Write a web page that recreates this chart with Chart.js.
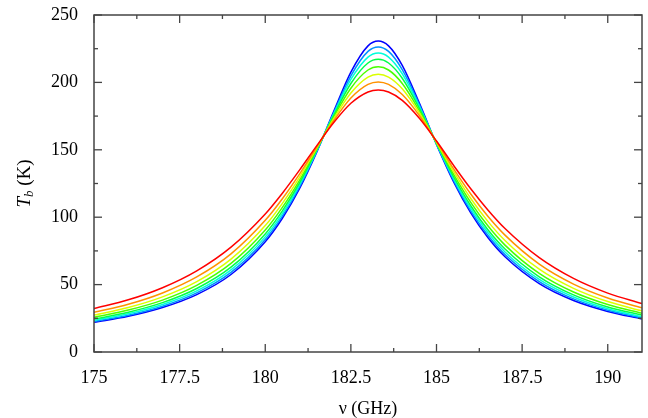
<!DOCTYPE html>
<html>
<head>
<meta charset="utf-8">
<script src="https://cdn.jsdelivr.net/npm/chart.js@4.4.1/dist/chart.umd.min.js"></script>
<style>
  html, body { margin: 0; padding: 0; background: #fff; }
  #wrap { width: 648px; height: 418px; position: relative; }
</style>
</head>
<body>
<div id="wrap"><canvas id="c" width="648" height="418"></canvas></div>
<script>
// Frequency (GHz)
const freqs = [175, 176, 177, 178, 179, 180, 180.5, 181, 181.5, 182, 182.5, 183, 183.3, 183.6, 184, 184.5, 185, 185.5, 186, 186.5, 187, 188, 189, 190, 191];

// Brightness temperature Tb (K), one series per curve (red -> blue)
const tbRed    = [32.2, 38.7, 47.7, 60.2, 77.8, 102.4, 117.8, 134.9, 152.9, 170.2, 184.5, 192.9, 194.4, 192.9, 186.7, 173.4, 156.5, 138.4, 121.1, 105.4, 91.6, 70.0, 54.6, 43.7, 35.9];
const tbOrange = [29.4, 35.4, 43.8, 55.7, 72.8, 97.7, 113.7, 132.0, 151.9, 171.7, 188.4, 198.5, 200.3, 198.5, 191.0, 175.4, 156.0, 135.9, 117.2, 100.7, 86.7, 65.2, 50.4, 40.1, 32.8];
const tbYellow = [27.4, 33.0, 40.9, 52.2, 68.9, 93.8, 110.3, 129.6, 151.1, 173.1, 192.1, 203.9, 206.0, 203.9, 195.2, 177.3, 155.6, 133.8, 113.9, 96.9, 82.7, 61.4, 47.2, 37.4, 30.5];
const tbLime   = [25.7, 31.1, 38.5, 49.4, 65.7, 90.5, 107.3, 127.4, 150.4, 174.4, 195.7, 209.2, 211.6, 209.2, 199.2, 179.0, 155.2, 131.8, 111.0, 93.6, 79.3, 58.3, 44.5, 35.2, 28.7];
const tbGreen  = [24.4, 29.5, 36.6, 47.1, 62.9, 87.6, 104.7, 125.4, 149.7, 175.6, 199.2, 214.4, 217.1, 214.4, 203.1, 180.7, 154.8, 130.0, 108.5, 90.7, 76.4, 55.8, 42.4, 33.4, 27.3];
const tbCyan   = [23.5, 28.3, 35.2, 45.3, 60.9, 85.4, 102.6, 123.9, 149.1, 176.6, 202.2, 218.8, 221.8, 218.8, 206.4, 182.1, 154.5, 128.6, 106.5, 88.6, 74.2, 53.8, 40.8, 32.1, 26.2];
const tbAzure  = [22.7, 27.3, 34.0, 43.9, 59.1, 83.5, 100.8, 122.4, 148.6, 177.5, 204.9, 223.0, 226.3, 223.0, 209.5, 183.4, 154.2, 127.3, 104.7, 86.6, 72.3, 52.2, 39.4, 31.0, 25.3];
const tbBlue   = [22.0, 26.5, 33.0, 42.6, 57.5, 81.8, 99.2, 121.2, 148.1, 178.5, 207.6, 227.1, 230.7, 227.1, 212.6, 184.6, 154.0, 126.2, 103.2, 84.9, 70.6, 50.7, 38.2, 30.1, 24.5];

// Tick labels / positions
const xTicks = [175, 177.5, 180, 182.5, 185, 187.5, 190];
const xMinor = [176.25, 178.75, 181.25, 183.75, 186.25, 188.75];
const yTicks = [0, 50, 100, 150, 200, 250];
const yMinor = [25, 75, 125, 175, 225];

const seriesList = [tbRed, tbOrange, tbYellow, tbLime, tbGreen, tbCyan, tbAzure, tbBlue];
const colors = ['#ff0000', '#ff9200', '#dbff00', '#49ff00', '#00ff49', '#00ffdb', '#0092ff', '#0000ff'];

const FONT = '"Liberation Serif", "Times New Roman", serif';

const datasets = seriesList.map((s, i) => ({
  data: freqs.map((f, j) => ({ x: f, y: s[j] })),
  borderColor: colors[i],
  borderWidth: 1.5,
  pointRadius: 0,
  fill: false,
  cubicInterpolationMode: 'monotone'
}));

const frameTicks = {
  id: 'frameTicks',
  afterDatasetsDraw(chart) {
    const { ctx, chartArea: a, scales: { x, y } } = chart;
    ctx.save();
    ctx.strokeStyle = '#444';
    ctx.lineWidth = 1.3;
    const seg = (x1, y1, x2, y2) => { ctx.beginPath(); ctx.moveTo(x1, y1); ctx.lineTo(x2, y2); ctx.stroke(); };
    const MAJ = 8, MIN = 4;
    xTicks.forEach(v => { const p = x.getPixelForValue(v); seg(p, a.bottom, p, a.bottom - MAJ); seg(p, a.top, p, a.top + MAJ); });
    xMinor.forEach(v => { const p = x.getPixelForValue(v); seg(p, a.bottom, p, a.bottom - MIN); seg(p, a.top, p, a.top + MIN); });
    yTicks.forEach(v => { const p = y.getPixelForValue(v); seg(a.left, p, a.left + MAJ, p); seg(a.right, p, a.right - MAJ, p); });
    yMinor.forEach(v => { const p = y.getPixelForValue(v); seg(a.left, p, a.left + MIN, p); seg(a.right, p, a.right - MIN, p); });
    ctx.lineWidth = 1.5;
    ctx.strokeRect(a.left, a.top, a.right - a.left, a.bottom - a.top);
    ctx.restore();
  }
};

const yTitle = {
  id: 'yTitle',
  afterDraw(chart) {
    const { ctx, chartArea: a } = chart;
    ctx.save();
    ctx.translate(25, (a.top + a.bottom) / 2);
    ctx.rotate(-Math.PI / 2);
    ctx.fillStyle = '#000';
    ctx.textBaseline = 'middle';
    ctx.textAlign = 'left';
    const fT = 'italic 19px ' + FONT, fb = 'italic 13px ' + FONT, fK = '19px ' + FONT;
    ctx.font = fT; const wT = ctx.measureText('T').width;
    ctx.font = fb; const wb = ctx.measureText('b').width;
    ctx.font = fK; const wK = ctx.measureText(' (K)').width;
    let x0 = -(wT + wb + wK) / 2;
    ctx.font = fT; ctx.fillText('T', x0, 0); x0 += wT;
    ctx.font = fb; ctx.fillText('b', x0, 5); x0 += wb;
    ctx.font = fK; ctx.fillText(' (K)', x0, 0);
    ctx.restore();
  }
};

new Chart(document.getElementById('c'), {
  type: 'line',
  data: { datasets },
  options: {
    responsive: false,
    animation: false,
    devicePixelRatio: 1,
    layout: { padding: { left: 0, right: 6, top: 15, bottom: 0 } },
    plugins: { legend: { display: false }, tooltip: { enabled: false } },
    scales: {
      x: {
        type: 'linear',
        min: 175, max: 191,
        afterBuildTicks: (s) => { s.ticks = xTicks.map(v => ({ value: v })); },
        afterFit: (s) => { s.height = 66; s.paddingLeft = 0; s.paddingRight = 0; },
        grid: { display: false, drawTicks: false },
        border: { display: false },
        ticks: { color: '#000', font: { family: FONT, size: 18 }, padding: 15, maxRotation: 0, autoSkip: false },
        title: { display: true, text: 'ν (GHz)', color: '#000', font: { family: FONT, size: 18, lineHeight: 1 }, padding: { top: 0, bottom: 0 } }
      },
      y: {
        type: 'linear',
        min: 0, max: 250,
        afterBuildTicks: (s) => { s.ticks = yTicks.map(v => ({ value: v })); },
        afterFit: (s) => { s.width = 94; s.paddingTop = 0; s.paddingBottom = 0; },
        grid: { display: false, drawTicks: false },
        border: { display: false },
        ticks: { color: '#000', font: { family: FONT, size: 18 }, padding: 16 }
      }
    }
  },
  plugins: [frameTicks, yTitle]
});
</script>
</body>
</html>
